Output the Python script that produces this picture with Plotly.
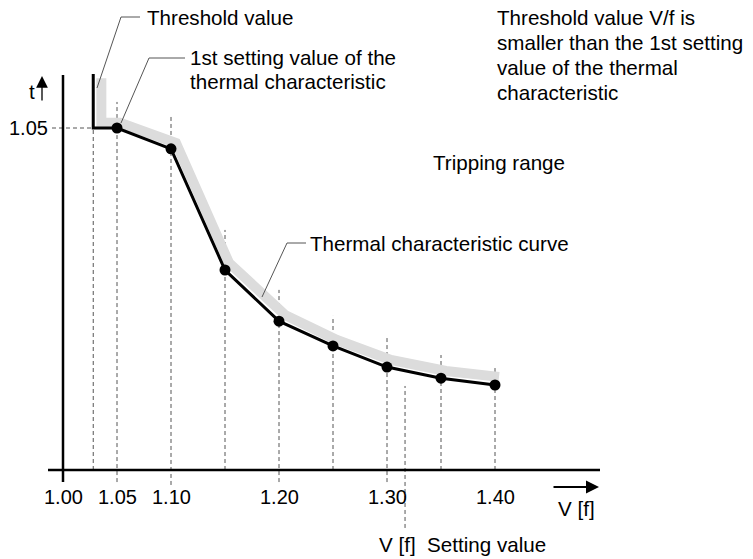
import plotly.graph_objects as go

# ---------------- data ----------------
# V/f values of the thermal characteristic and the associated t values
char_v = [1.05, 1.10, 1.15, 1.20, 1.25, 1.30, 1.35, 1.40]
char_t = [1.050, 0.986, 0.614, 0.457, 0.381, 0.316, 0.282, 0.261]

# threshold step (vertical + horizontal part)
thr_v = [1.028, 1.028, 1.05]
thr_t = [1.216, 1.050, 1.050]

# grey tolerance band drawn behind the curve
band_v = [1.0355, 1.0355, 1.0528, 1.1046, 1.1537, 1.2056, 1.2537, 1.3037, 1.3546, 1.4037]
band_t = [1.203, 1.066, 1.066, 1.004, 0.636, 0.476, 0.399, 0.338, 0.304, 0.286]

# vertical dashed guide lines
dash_v = [1.028, 1.05, 1.10, 1.15, 1.20, 1.25, 1.30, 1.3167, 1.35, 1.40]
dash_top = [1.050, 1.130, 1.090, 0.737, 0.553, 0.473, 0.408, 0.258, 0.353, 0.313]
dash_bot = [0.0, -0.037, -0.046, 0.0, -0.037, 0.0, -0.037, -0.178, 0.0, 0.0]

# tick labels
x_tick_vals = [1.00, 1.05, 1.10, 1.20, 1.30, 1.40]
x_tick_text = ["1.00", "1.05", "1.10", "1.20", "1.30", "1.40"]
y_tick_vals = [1.05]
y_tick_text = ["1.05"]

# ---------------- figure geometry ----------------
OFF = 8                          # default page margin around the plot div
W, H = 753 - OFF, 559 - OFF
X0PX, VPP = 63 - OFF, 1080.0     # pixel of V=1.00, pixels per unit V
Y0PX, TPP = 470 - OFF, 342 / 1.05
x_range = [1 - X0PX / VPP, 1 + (W - X0PX) / VPP]
y_range = [-(H - Y0PX) / TPP, Y0PX / TPP]

FONT = "Arial, Liberation Sans, sans-serif"
TXT = 20.6
NUM = 20

def px(x):
    return (x - OFF) / W

def py(y):
    return 1 - (y - OFF) / H

fig = go.Figure()

# grey band
fig.add_trace(go.Scatter(x=band_v, y=band_t, mode="lines",
                         line=dict(color="#dcdcdc", width=10),
                         hoverinfo="skip"))
# black threshold + characteristic line
fig.add_trace(go.Scatter(x=thr_v[:-1] + char_v, y=thr_t[:-1] + char_t, mode="lines",
                         line=dict(color="black", width=3),
                         hoverinfo="skip"))
# points
fig.add_trace(go.Scatter(x=char_v, y=char_t, mode="markers",
                         marker=dict(color="black", size=11),
                         hoverinfo="skip"))

shapes = []
# dashed vertical guides
for v, t1, t0 in zip(dash_v, dash_top, dash_bot):
    shapes.append(dict(type="line", xref="x", yref="y", x0=v, x1=v, y0=t0, y1=t1,
                       line=dict(color="#555555", width=1, dash="4px,3px"), layer="below"))
# dashed horizontal at t=1.05
shapes.append(dict(type="line", xref="x", yref="y", x0=1 - 11 / VPP, x1=thr_v[0],
                   y0=y_tick_vals[0], y1=y_tick_vals[0],
                   line=dict(color="#555555", width=1, dash="4px,3px"), layer="below"))
# axes
shapes.append(dict(type="line", xref="paper", yref="paper", x0=px(48), x1=px(600),
                   y0=py(470), y1=py(470), line=dict(color="black", width=2.5)))
shapes.append(dict(type="line", xref="paper", yref="paper", x0=px(63), x1=px(63),
                   y0=py(75), y1=py(482), line=dict(color="black", width=2.5)))
# leader lines
leaders = [
    [(140, 17), (121, 17), (97, 88)],
    [(185, 58), (149, 58), (121, 123)],
    [(306, 243), (287, 243), (262, 297)],
]
for pts in leaders:
    path = "M " + " L ".join(f"{px(a)},{py(b)}" for a, b in pts)
    shapes.append(dict(type="path", xref="paper", yref="paper", path=path,
                       line=dict(color="#555555", width=1)))

annotations = []

def text(s, x, y, anchor="left", size=TXT):
    annotations.append(dict(text=s, x=px(x), y=py(y), xref="paper", yref="paper",
                            xanchor=anchor, yanchor="middle", showarrow=False,
                            borderpad=0, font=dict(family=FONT, size=size, color="black")))

text("Threshold value", 146, 18)
text("1st setting value of the", 189, 57)
text("thermal characteristic", 189, 81)
for i, line in enumerate(["Threshold value V/f is", "smaller than the 1st setting",
                          "value of the thermal", "characteristic"]):
    text(line, 496, 18 + i * 24.7)
text("Tripping range", 432, 162)
text("Thermal characteristic curve", 309, 243)
text("t", 32, 91, anchor="center")
text("V [f]", 557, 508)
text("V [f]\u00a0\u00a0Setting value", 378, 544)

# tick labels through the data scales
for v, s in zip(x_tick_vals, x_tick_text):
    annotations.append(dict(text=s, x=v, y=-27 / TPP, xref="x", yref="y",
                            xanchor="center", yanchor="middle", showarrow=False, borderpad=0,
                            font=dict(family=FONT, size=NUM, color="black")))
for t, s in zip(y_tick_vals, y_tick_text):
    annotations.append(dict(text=s, x=1 - 35 / VPP, y=t, xref="x", yref="y",
                            xanchor="center", yanchor="middle", showarrow=False, borderpad=0,
                            font=dict(family=FONT, size=NUM, color="black")))

# arrows next to axis names
annotations.append(dict(x=px(42), y=py(76), ax=0, ay=26, xref="paper", yref="paper",
                        axref="pixel", ayref="pixel", text="", showarrow=True,
                        arrowhead=2, arrowsize=1.8, arrowwidth=1.3, arrowcolor="black"))
annotations.append(dict(x=px(599), y=py(487), ax=-47, ay=0, xref="paper", yref="paper",
                        axref="pixel", ayref="pixel", text="", showarrow=True,
                        arrowhead=2, arrowsize=1.3, arrowwidth=2, arrowcolor="black"))

fig.update_layout(
    width=W, height=H, margin=dict(l=0, r=0, t=0, b=0),
    paper_bgcolor="white", plot_bgcolor="white", showlegend=False,
    xaxis=dict(range=x_range, visible=False, fixedrange=True),
    yaxis=dict(range=y_range, visible=False, fixedrange=True),
    shapes=shapes, annotations=annotations,
)

fig.write_html("out.html")
